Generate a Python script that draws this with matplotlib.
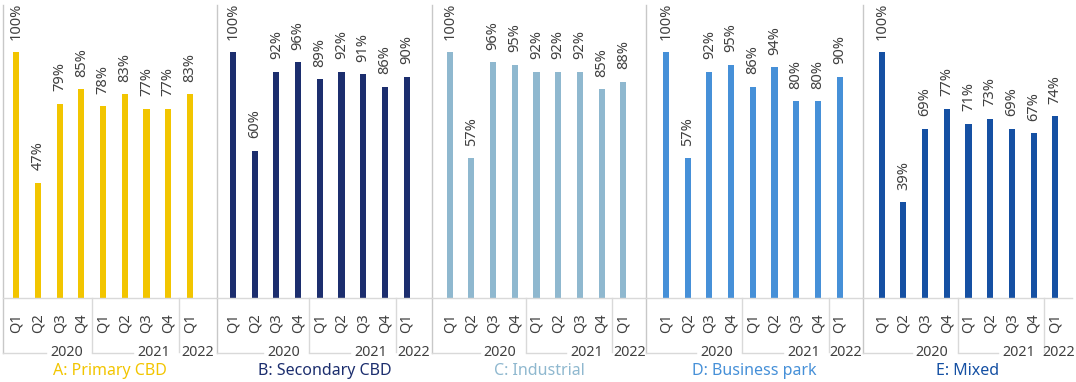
import matplotlib
matplotlib.use("Agg")
import matplotlib.pyplot as plt
import matplotlib.transforms as mtransforms
from matplotlib.lines import Line2D

plt.rcParams['font.family'] = ['Noto Sans', 'DejaVu Sans']

quarters = ["Q1", "Q2", "Q3", "Q4", "Q1", "Q2", "Q3", "Q4", "Q1"]
years = ["2020", "2021", "2022"]
year_sizes = [4, 4, 1]

titles = ["A: Primary CBD", "B: Secondary CBD", "C: Industrial", "D: Business park", "E: Mixed"]
colors = ["#F2C500", "#1C2E6E", "#8FB8CF", "#4690D8", "#1550A3"]

primary_cbd = [100, 47, 79, 85, 78, 83, 77, 77, 83]
secondary_cbd = [100, 60, 92, 96, 89, 92, 91, 86, 90]
industrial = [100, 57, 96, 95, 92, 92, 92, 85, 88]
business_park = [100, 57, 92, 95, 86, 94, 80, 80, 90]
mixed = [100, 39, 69, 77, 71, 73, 69, 67, 74]
series = [primary_cbd, secondary_cbd, industrial, business_park, mixed]

W, H = 1076, 382
fig = plt.figure(figsize=(W / 100, H / 100), dpi=100)

# panel layout in pixels: left spine x, first bar centre, right end
panels_px = [(2.7, 16.3, 216.7), (216.7, 233.0, 432.0), (432.0, 449.7, 646.0),
             (646.0, 666.0, 862.7), (862.7, 881.7, 1072.0)]
step = 21.7
base_y = 298.3       # baseline in px from top
unit = 246.0         # px per 100%
ax_h = base_y
label_c = "#404040"
line_c = "#C8C8C8"
sep_c = "#D9D9D9"

def ay(px_from_top):
    """convert px (from figure top) to axes y fraction"""
    return (base_y - px_from_top) / ax_h

for i, (vals, col, title) in enumerate(zip(series, colors, titles)):
    s, c0, r = panels_px[i]
    ax = fig.add_axes([s / W, (H - base_y) / H, (r - s) / W, ax_h / H])
    x = list(range(len(vals)))
    frac = [v / 100 for v in vals]
    ax.bar(x, frac, width=0.28, color=col)
    ax.set_xlim((s - c0) / step, (r - c0) / step)
    ax.set_ylim(0, base_y / unit)
    for sp in ["top", "right", "left"]:
        ax.spines[sp].set_visible(False)
    ax.spines["bottom"].set_color(sep_c)
    ax.spines["bottom"].set_linewidth(1.0)
    ax.set_xticks([])
    ax.set_yticks([])
    ax.patch.set_alpha(0)

    for xi, v, f in zip(x, vals, frac):
        ax.annotate(f"{v}%", (xi, f), xytext=(0, 9), textcoords="offset points",
                    rotation=90, ha="center", va="bottom", fontsize=10.5, color=label_c)

    trans = mtransforms.blended_transform_factory(ax.transData, ax.transAxes)
    # left spine, extending into category area
    ax.add_line(Line2D([0, 0], [ay(5), ay(353)], transform=ax.transAxes,
                       color=line_c, lw=1.0, clip_on=False))
    for xi, q in zip(x, quarters):
        ax.text(xi, ay(323), q, transform=trans, rotation=90, ha="center", va="center",
                fontsize=10.5, color=label_c)
    start = 0
    xl0 = (s - c0) / step
    xr = (r - c0) / step
    for k, (yr, n) in enumerate(zip(years, year_sizes)):
        g_left = xl0 if k == 0 else start - 0.5
        g_right = start + n - 0.5 if k < len(years) - 1 else xr
        if k > 0:
            ax.add_line(Line2D([g_left, g_left], [0, ay(352)], transform=trans,
                               color=sep_c, lw=1.0, clip_on=False))
        if k < len(years) - 1:
            lx = g_right - 0.42
            ax.text(lx, ay(352), yr, transform=trans, ha="right", va="center",
                    fontsize=10.3, color=label_c)
            ax.add_line(Line2D([g_left, lx - 1.7], [ay(353), ay(353)], transform=trans,
                               color=sep_c, lw=1.0, clip_on=False))
        else:
            ax.text((g_left + g_right) / 2, ay(352), yr, transform=trans, ha="center",
                    va="center", fontsize=10.3, color=label_c)
        start += n
    ax.text(0.5, ay(371), title, transform=ax.transAxes, ha="center", va="center",
            fontsize=11.5, color=col)

fig.savefig("out.png", dpi=100)
